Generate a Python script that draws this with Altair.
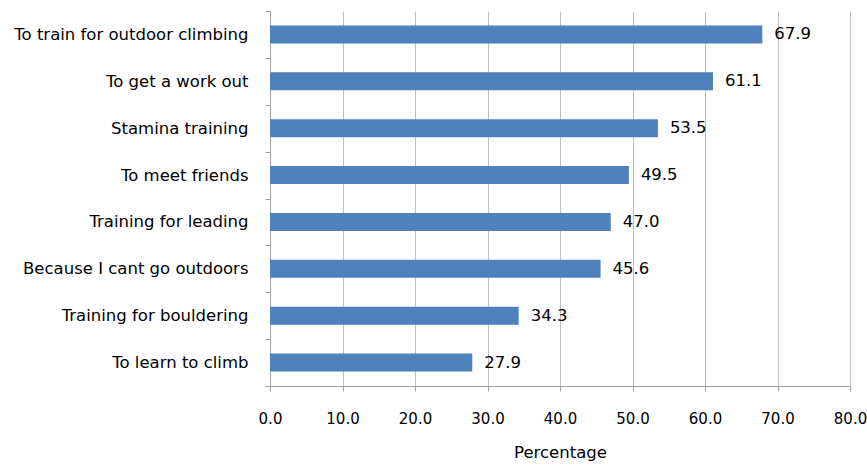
import altair as alt
import pandas as pd

categories = [
    "To train for outdoor climbing",
    "To get a work out",
    "Stamina training",
    "To meet friends",
    "Training for leading",
    "Because I cant go outdoors",
    "Training for bouldering",
    "To learn to climb",
]
values = [67.9, 61.1, 53.5, 49.5, 47.0, 45.6, 34.3, 27.9]

df = pd.DataFrame({"reason": categories, "pct": values})
df["label"] = [f"{v:.1f}" for v in values]

FONT = "DejaVu Sans"
GRAY = "#BFBFBF"
FS = 16.5

base = alt.Chart(df)

bars = base.mark_bar(color="#4F81BD", size=18).encode(
    x=alt.X(
        "pct:Q",
        scale=alt.Scale(domain=[0, 80], nice=False),
        axis=alt.Axis(
            values=[0, 10, 20, 30, 40, 50, 60, 70, 80],
            format=".1f",
            title="Percentage",
            grid=True,
            gridColor=GRAY,
            domainColor="#A0A0A0",
            tickColor="#A0A0A0",
            tickSize=5,
            labelFlush=False,
            labelPadding=20,
            labelFontSize=15,
            labelFont=FONT,
            labelColor="black",
            titleFont=FONT,
            titleFontSize=FS,
            titleFontWeight="normal",
            titleColor="black",
            titlePadding=18,
        ),
    ),
    y=alt.Y(
        "reason:N",
        sort=categories,
        scale=alt.Scale(paddingInner=0, paddingOuter=0),
        axis=alt.Axis(
            title=None,
            tickBand="extent",
            tickSize=5,
            tickColor="#A0A0A0",
            domainColor="#A0A0A0",
            labelPadding=17,
            labelFontSize=FS,
            labelFont=FONT,
            labelColor="black",
            labelLimit=400,
            grid=False,
        ),
    ),
)

text = base.mark_text(
    align="left", baseline="middle", dx=12, fontSize=FS, font=FONT, color="black"
).encode(
    x="pct:Q",
    y=alt.Y("reason:N", sort=categories),
    text="label:N",
)

chart = (
    alt.layer(bars, text)
    .properties(
        width=580,
        height=375,
        autosize=alt.AutoSizeParams(type="none"),
        padding={"left": 270, "top": 11, "right": 17, "bottom": 79},
    )
    .configure_view(stroke=None)
)

chart.save("out.html", embed_options={"renderer": "svg", "actions": False})
